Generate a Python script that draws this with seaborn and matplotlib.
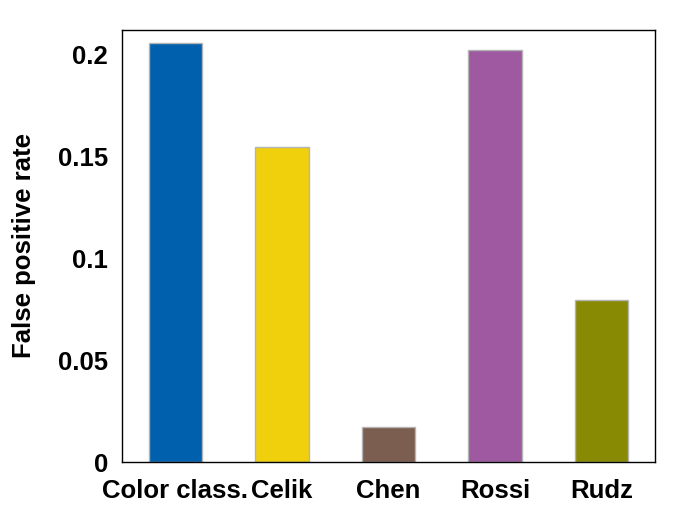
import pandas as pd
import matplotlib
matplotlib.use('Agg')
import matplotlib.pyplot as plt
import seaborn as sns

# 数据
methods = ['Color class.', 'Celik', 'Chen', 'Rossi', 'Rudz']
fpr_values = [0.2052, 0.1544, 0.0172, 0.2018, 0.0793]
bar_colors = ['#0060AD', '#F0CF0C', '#7B5E50', '#9E59A0', '#888A04']
y_ticks = [0, 0.05, 0.1, 0.15, 0.2]
y_tick_labels = ['0', '0.05', '0.1', '0.15', '0.2']

sns.set_style('white')
plt.rcParams['font.family'] = ['Liberation Sans', 'DejaVu Sans']
plt.rcParams['font.weight'] = 'bold'
plt.rcParams['text.color'] = 'black'
plt.rcParams['axes.labelcolor'] = 'black'
plt.rcParams['xtick.color'] = 'black'
plt.rcParams['ytick.color'] = 'black'

df = pd.DataFrame({'method': methods, 'fpr': fpr_values})

fig = plt.figure(figsize=(7, 5.24), dpi=100)
ax = fig.add_axes([122 / 700, 1 - 462 / 524, 533 / 700, 432 / 524])

sns.barplot(data=df, x='method', y='fpr', hue='method', palette=bar_colors,
            width=0.5, edgecolor='#b4b4b4', linewidth=1, saturation=1,
            legend=False, ax=ax)

ax.set_xlim(-0.5, 4.5)
ax.set_ylim(0, 0.2118)
ax.set_yticks(y_ticks)
ax.set_yticklabels(y_tick_labels, fontsize=18.5, fontweight='bold')
ax.set_xticks(range(len(methods)))
ax.set_xticklabels(methods, fontsize=18.5, fontweight='bold')
ax.tick_params(axis='x', length=0, pad=12)
ax.tick_params(axis='y', direction='in', length=9, width=1, pad=10, right=False)
ax.set_xlabel('')
ax.set_ylabel('False positive rate', fontsize=18.5, fontweight='bold', labelpad=16)

for s in ax.spines.values():
    s.set_color('black')
    s.set_linewidth(1)

fig.savefig('out.png', dpi=100)
